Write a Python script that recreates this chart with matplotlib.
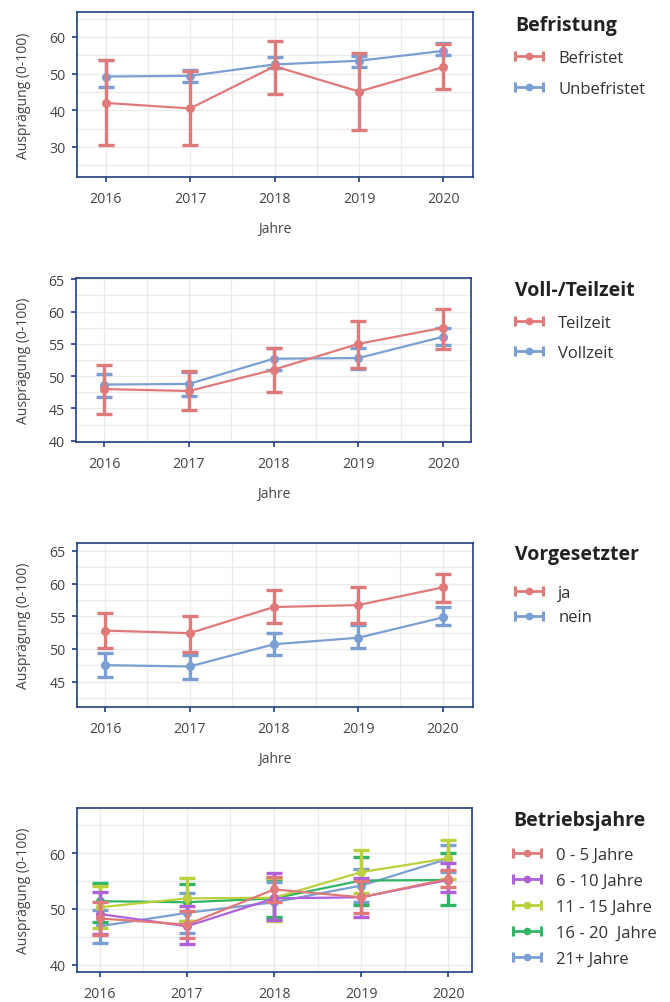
import matplotlib
matplotlib.use("Agg")
import matplotlib.pyplot as plt
from matplotlib.legend_handler import HandlerBase
from matplotlib.lines import Line2D

plt.rcParams['font.family'] = ['Open Sans', 'DejaVu Sans']

years = [2016, 2017, 2018, 2019, 2020]

# Befristung
befristet_mean = [42.0, 40.5, 52.0, 45.1, 51.8]
befristet_lo = [30.4, 30.4, 44.5, 34.6, 45.7]
befristet_hi = [53.8, 50.6, 58.8, 55.5, 58.2]
unbefristet_mean = [49.2, 49.4, 52.5, 53.5, 56.2]
unbefristet_lo = [46.4, 47.6, 51.5, 51.8, 55.2]
unbefristet_hi = [53.6, 50.9, 54.4, 54.7, 58.4]

# Voll-/Teilzeit
teilzeit_mean = [48.0, 47.7, 51.0, 55.0, 57.5]
teilzeit_lo = [44.2, 44.7, 47.5, 51.2, 54.2]
teilzeit_hi = [51.7, 50.8, 54.3, 58.5, 60.4]
vollzeit_mean = [48.7, 48.8, 52.7, 52.8, 56.1]
vollzeit_lo = [46.8, 47.0, 51.0, 51.1, 54.8]
vollzeit_hi = [50.3, 50.6, 54.4, 54.4, 57.5]

# Vorgesetzter
ja_mean = [52.8, 52.4, 56.4, 56.7, 59.4]
ja_lo = [50.1, 49.5, 54.0, 54.0, 57.2]
ja_hi = [55.5, 55.1, 59.0, 59.4, 61.5]
nein_mean = [47.5, 47.3, 50.7, 51.7, 54.8]
nein_lo = [45.7, 45.4, 49.0, 50.1, 53.6]
nein_hi = [49.3, 49.0, 52.5, 53.6, 56.4]

# Betriebsjahre
j0_5_mean = [48.3, 47.2, 53.5, 52.1, 55.4]
j0_5_lo = [45.4, 44.8, 51.2, 49.3, 53.9]
j0_5_hi = [51.2, 49.7, 55.8, 55.1, 57.0]
j6_10_mean = [49.1, 46.9, 51.9, 52.1, 55.2]
j6_10_lo = [45.6, 43.8, 48.1, 48.5, 53.0]
j6_10_hi = [53.0, 50.6, 56.4, 55.5, 58.3]
j11_15_mean = [50.3, 51.9, 52.0, 56.6, 59.1]
j11_15_lo = [46.5, 47.9, 47.9, 52.8, 55.3]
j11_15_hi = [54.2, 55.6, 55.5, 60.5, 62.4]
j16_20_mean = [51.4, 51.2, 51.9, 55.1, 55.2]
j16_20_lo = [47.7, 47.9, 48.5, 50.8, 50.7]
j16_20_hi = [54.6, 54.5, 55.4, 59.3, 60.1]
j21_mean = [46.9, 49.3, 51.2, 54.2, 59.0]
j21_lo = [43.9, 45.7, 48.4, 51.2, 56.6]
j21_hi = [49.9, 52.9, 54.8, 57.2, 61.4]

ROT = '#e07a7a'
BLAU = '#7b9fd2'
LILA = '#b060d8'
GELB = '#bccf3c'
GRUEN = '#2fb563'
NAVY = '#20407f'
GRID = '#ebebeb'

W, H = 670, 1003


class CapHandler(HandlerBase):
    # |--o--| Symbol wie im Plot
    def create_artists(self, legend, orig_handle, xdescent, ydescent,
                       width, height, fontsize, trans):
        c = orig_handle.get_color()
        y = height / 2 - ydescent
        x0, x1 = -xdescent, width - xdescent
        line = Line2D([x0, x1], [y, y], color=c, lw=2.0)
        dot = Line2D([(x0 + x1) / 2], [y], marker='o', ms=4.5, color=c)
        caps = Line2D([x0, x1], [y, y], ls='none', marker='|', ms=6.5,
                      mew=2.2, color=c)
        for a in (line, dot, caps):
            a.set_transform(trans)
        return [line, dot, caps]


def achse(box, xlim, ylim, yticks, yminor, xlabel=True):
    left, top, right, bottom = box
    ax = fig.add_axes([left / W, 1 - bottom / H, (right - left) / W,
                       (bottom - top) / H])
    ax.set_xlim(*xlim)
    ax.set_ylim(*ylim)
    ax.set_xticks(years)
    ax.set_xticks([y + 0.5 for y in years[:-1]], minor=True)
    ax.set_yticks(yticks)
    ax.set_yticks(yminor, minor=True)
    ax.grid(True, which='both', color=GRID, lw=1)
    ax.set_axisbelow(True)
    for s in ax.spines.values():
        s.set_color(NAVY)
        s.set_linewidth(1.2)
    ax.tick_params(axis='both', which='major', color=NAVY, length=3.6,
                   width=1.2, labelsize=10.2, labelcolor='#444444')
    ax.tick_params(axis='y', pad=4.5)
    ax.tick_params(axis='x', pad=6.5)
    ax.tick_params(which='minor', length=0)
    ax.set_ylabel('Ausprägung (0-100)', fontsize=10, color='#444444',
                  va='center')
    ax.yaxis.set_label_coords((24 - left) / (right - left), 0.5)
    if xlabel:
        ax.set_xlabel('Jahre', fontsize=10, color='#444444')
        ax.xaxis.set_label_coords(0.5, -(222 - 178) / 165)
    return ax


def reihe(ax, mean, lo, hi, farbe, name, z):
    err = [[m - l for m, l in zip(mean, lo)], [h - m for m, h in zip(mean, hi)]]
    ax.errorbar(years, mean, yerr=err, color=farbe, lw=1.6, elinewidth=2.4,
                capsize=6, capthick=2.4, marker='o', ms=5.5, zorder=z)
    return Line2D([], [], color=farbe, label=name)


def legende(ax, handles, titel, x, y, spacing, sep):
    leg = ax.legend(handles=handles, title=titel, loc='upper left',
                    bbox_to_anchor=(x / W, 1 - y / H),
                    bbox_transform=fig.transFigure, frameon=False,
                    fontsize=12, handlelength=1.7, handletextpad=0.9,
                    labelspacing=spacing, borderaxespad=0, borderpad=0,
                    alignment='left',
                    title_fontproperties={'weight': 'bold', 'size': 14},
                    handler_map={Line2D: CapHandler()})
    for t in leg.get_texts():
        t.set_color('#333333')
    leg.get_title().set_color('#222222')
    leg._legend_box.sep = sep


fig = plt.figure(figsize=(W / 100, H / 100), dpi=100)

# Befristung
ax1 = achse((77, 13, 473, 178), (2015.66, 2020.35), (21.8, 66.8),
            [30, 40, 50, 60], [25, 35, 45, 55, 65])
h = [reihe(ax1, befristet_mean, befristet_lo, befristet_hi, ROT, 'Befristet', 4),
     reihe(ax1, unbefristet_mean, unbefristet_lo, unbefristet_hi, BLAU, 'Unbefristet', 3)]
legende(ax1, h, 'Befristung', 515, 16, 0.86, 11)

# Voll-/Teilzeit
ax2 = achse((76, 279, 471, 443), (2015.666, 2020.33), (39.8, 65.2),
            [40, 45, 50, 55, 60, 65], [42.5, 47.5, 52.5, 57.5, 62.5])
h = [reihe(ax2, teilzeit_mean, teilzeit_lo, teilzeit_hi, ROT, 'Teilzeit', 4),
     reihe(ax2, vollzeit_mean, vollzeit_lo, vollzeit_hi, BLAU, 'Vollzeit', 3)]
legende(ax2, h, 'Voll-/Teilzeit', 515, 281, 0.8, 11)

# Vorgesetzter
ax3 = achse((77, 544, 473, 708), (2015.665, 2020.36), (41.1, 66.2),
            [45, 50, 55, 60, 65], [42.5, 47.5, 52.5, 57.5, 62.5])
h = [reihe(ax3, ja_mean, ja_lo, ja_hi, ROT, 'ja', 4),
     reihe(ax3, nein_mean, nein_lo, nein_hi, BLAU, 'nein', 3)]
legende(ax3, h, 'Vorgesetzter', 515, 545, 0.51, 15)

# Betriebsjahre
ax4 = achse((77, 809, 472, 973), (2015.74, 2020.27), (38.7, 68.1),
            [40, 50, 60], [45, 55, 65], xlabel=False)
h = [reihe(ax4, j0_5_mean, j0_5_lo, j0_5_hi, ROT, '0 - 5 Jahre', 7),
     reihe(ax4, j6_10_mean, j6_10_lo, j6_10_hi, LILA, '6 - 10 Jahre', 6),
     reihe(ax4, j11_15_mean, j11_15_lo, j11_15_hi, GELB, '11 - 15 Jahre', 5),
     reihe(ax4, j16_20_mean, j16_20_lo, j16_20_hi, GRUEN, '16 - 20  Jahre', 4),
     reihe(ax4, j21_mean, j21_lo, j21_hi, BLAU, '21+ Jahre', 3)]
legende(ax4, h, 'Betriebsjahre', 513, 811, 0.61, 12)

fig.savefig('out.png', dpi=100)
